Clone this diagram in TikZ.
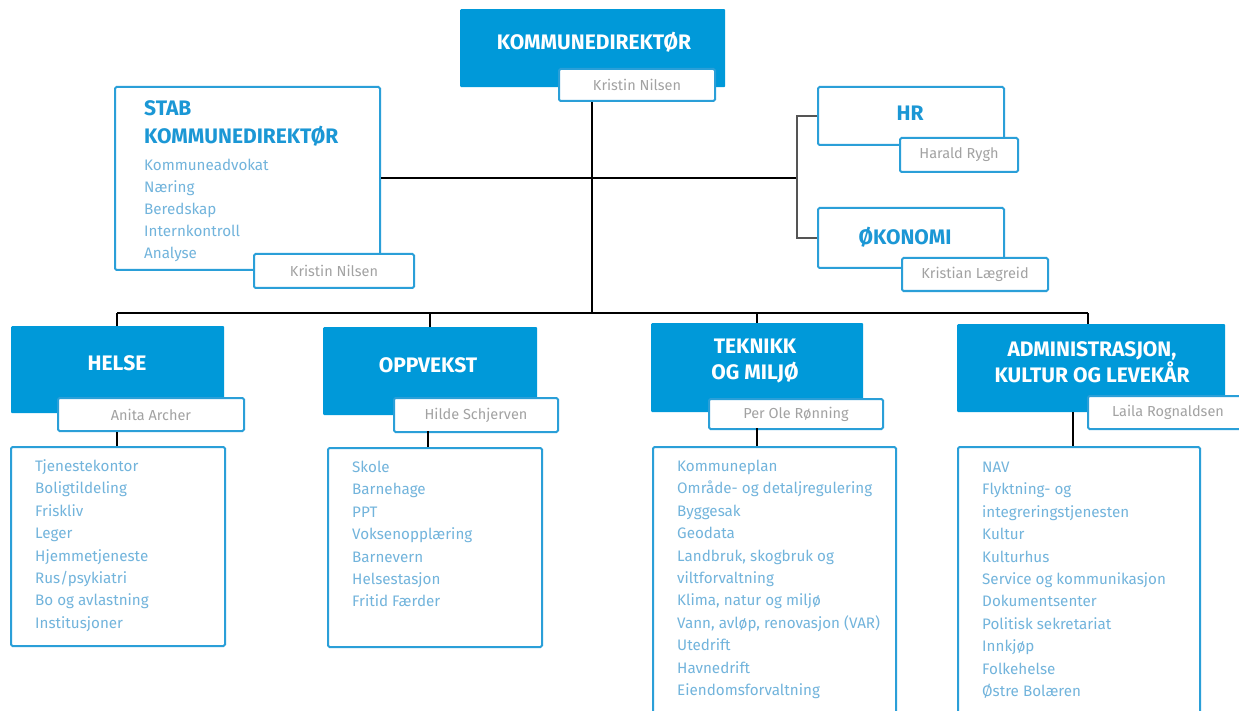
\documentclass[tikz,border=0pt]{standalone}
\usepackage{fontspec}
\setmainfont{Fira Sans}
\definecolor{kblue}{HTML}{0099D9}
\definecolor{kborder}{HTML}{2A9FD8}
\definecolor{ktext}{HTML}{72B4DC}
\definecolor{kname}{HTML}{A2A2A2}
\definecolor{ktitle}{HTML}{1B97D5}
\definecolor{kgray}{HTML}{555555}
\begin{document}
\begin{tikzpicture}[x=1pt,y=-1pt,
  bluebox/.style={fill=kblue, draw=none, rounded corners=1pt, inner sep=0pt, anchor=north west},
  framebox/.style={fill=white, draw=kborder, line width=2pt, rounded corners=1.5pt, inner sep=0pt, anchor=north west},
  namebox/.style={framebox, text=kname, font=\fontsize{14.5}{16}\selectfont},
  whitetitle/.style={text=white, font=\bfseries\fontsize{21}{26}\selectfont, align=center, inner sep=0pt},
  bluetitle/.style={text=ktitle, font=\bfseries\fontsize{21}{26}\selectfont, inner sep=0pt},
  item/.style={text=ktext, font=\fontsize{15.2}{18}\selectfont, anchor=base west, inner sep=0pt},
  conn/.style={draw=black, line width=2pt},
  bracket/.style={draw=kgray, line width=1.5pt}
]
\clip (0,0) rectangle (1239,711);
\fill[white] (0,0) rectangle (1239,711);

% ---------- Kommunedirektør ----------
\node[bluebox, minimum width=265pt, minimum height=78pt] (kd) at (460,9) {};
\node[whitetitle] (kdt) at (594,42) {KOMMUNEDIREKTØR};
\node[namebox, minimum width=156pt, minimum height=32pt] (kdn) at (558,68) {Kristin Nilsen};

% ---------- Stab ----------
\node[framebox, minimum width=265pt, minimum height=183pt] (stab) at (114,86) {};
\node[bluetitle, anchor=base west] (stabt1) at (144,115.5) {STAB};
\node[bluetitle, anchor=base west] (stabt2) at (144,143.5) {KOMMUNEDIREKTØR};
\foreach \t [count=\i] in {Kommuneadvokat, Næring, Beredskap, Internkontroll, Analyse}
  \node[item] (stabi\i) at (144,{170.5+22*(\i-1)}) {\t};
\node[namebox, minimum width=160pt, minimum height=34pt] (stabn) at (253,253) {Kristin Nilsen};

% ---------- HR ----------
\node[framebox, minimum width=186pt, minimum height=58pt] (hr) at (817,86) {};
\node[bluetitle] (hrt) at (910,113) {HR};
\node[namebox, minimum width=118pt, minimum height=34pt] (hrn) at (899,137) {Harald Rygh};

% ---------- Økonomi ----------
\node[framebox, minimum width=186pt, minimum height=60pt] (ok) at (817,207) {};
\node[bluetitle] (okt) at (905,237) {ØKONOMI};
\node[namebox, minimum width=146pt, minimum height=33pt] (okn) at (901,257) {Kristian Lægreid};

% ---------- Helse ----------
\node[bluebox, minimum width=213pt, minimum height=87pt] (he) at (11,326) {};
\node[whitetitle] (het) at (117,363) {HELSE};
\node[namebox, minimum width=186pt, minimum height=33pt] (hen) at (57,397) {Anita Archer};
\node[framebox, minimum width=214pt, minimum height=199pt] (hel) at (10,446) {};
\foreach \t [count=\i] in {Tjenestekontor, Boligtildeling, Friskliv, Leger, Hjemmetjeneste, Rus/psykiatri, Bo og avlastning, Institusjoner}
  \node[item] (hei\i) at (35,{471.5+22.4*(\i-1)}) {\t};

% ---------- Oppvekst ----------
\node[bluebox, minimum width=214pt, minimum height=88pt] (op) at (323,327) {};
\node[whitetitle] (opt) at (428,365) {OPPVEKST};
\node[namebox, minimum width=164pt, minimum height=34pt] (opn) at (393,397) {Hilde Schjerven};
\node[framebox, minimum width=214pt, minimum height=199pt] (opl) at (327,447) {};
\foreach \t [count=\i] in {Skole, Barnehage, PPT, Voksenopplæring, Barnevern, Helsestasjon, Fritid Færder}
  \node[item] (opi\i) at (352,{472.5+22.4*(\i-1)}) {\t};

% ---------- Teknikk og miljø ----------
\node[bluebox, minimum width=212pt, minimum height=89pt] (tm) at (651,323) {};
\node[whitetitle] (tmt) at (755,361) {TEKNIKK\\OG MILJØ};
\node[namebox, minimum width=174pt, minimum height=30pt] (tmn) at (708,398) {Per Ole Rønning};
\node[framebox, minimum width=243pt, minimum height=300pt] (tml) at (652,446) {};
\foreach \t [count=\i] in {Kommuneplan, Område- og detaljregulering, Byggesak, Geodata, {Landbruk, skogbruk og}, viltforvaltning, {Klima, natur og miljø}, {Vann, avløp, renovasjon (VAR)}, Utedrift, Havnedrift, Eiendomsforvaltning}
  \node[item] (tmi\i) at (677,{471.5+22.4*(\i-1)}) {\t};

% ---------- Administrasjon, kultur og levekår ----------
\node[bluebox, minimum width=268pt, minimum height=88pt] (ak) at (957,324) {};
\node[whitetitle] (akt) at (1092,362) {ADMINISTRASJON,\\KULTUR OG LEVEKÅR};
\node[namebox, minimum width=160pt, minimum height=33pt] (akn) at (1087,395) {Laila Rognaldsen};
\node[framebox, minimum width=242pt, minimum height=300pt] (akl) at (957,446) {};
\foreach \t [count=\i] in {NAV, Flyktning- og, integreringstjenesten, Kultur, Kulturhus, Service og kommunikasjon, Dokumentsenter, Politisk sekretariat, Innkjøp, Folkehelse, Østre Bolæren}
  \node[item] (aki\i) at (982,{472.5+22.4*(\i-1)}) {\t};

% ---------- connectors ----------
\coordinate (bus) at (592,313);
\coordinate (busL) at (117,313);
\coordinate (busR) at (1088,313);
\coordinate (br) at (797,178);
\draw[conn] (kdn.south -| bus) -- (bus);
\draw[conn] (busL) -- (busR);
\draw[conn] (busL) -- (busL |- he.north);
\draw[conn] (430,313) -- (430,327);
\draw[conn] (757,313) -- (757,323);
\draw[conn] (busR) -- (busR |- ak.north);
\draw[conn] (hen.south -| busL) -- (busL |- hel.north);
\draw[conn] (428,431) -- (428,447);
\draw[conn] (757,428) -- (757,446);
\draw[conn] (1073,412) -- (1073,446);
\draw[conn] (stab.east |- br) -- (br);
\draw[bracket] (hr.west) -| (br) |- (ok.west);
\end{tikzpicture}
\end{document}
